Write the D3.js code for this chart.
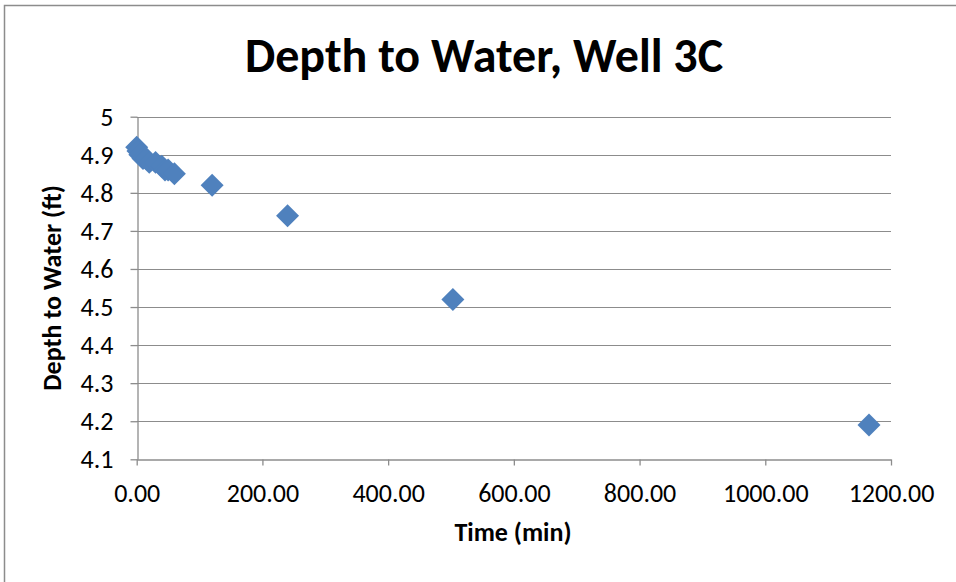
<!DOCTYPE html>
<html><head><meta charset="utf-8">
<script src="https://cdn.jsdelivr.net/npm/d3@7"></script>
<style>body{margin:0;background:#fff}svg{display:block}</style>
</head><body>
<script>
const timeMin = [0, 2, 5, 10, 15, 20, 30, 40, 45, 50, 60, 120, 240, 503, 1165];
const depthFt = [4.92, 4.91, 4.90, 4.89, 4.89, 4.88, 4.88, 4.87, 4.86, 4.86, 4.85, 4.82, 4.74, 4.52, 4.19];
const xTicks = [0, 200, 400, 600, 800, 1000, 1200];
const yTicks = [4.1, 4.2, 4.3, 4.4, 4.5, 4.6, 4.7, 4.8, 4.9, 5];
const title = "Depth to Water, Well 3C";
const xTitle = "Time (min)";
const yTitle = "Depth to Water (ft)";

const W = 956, H = 582;
const font = "Carlito, 'Open Sans', Lato, sans-serif";
const svg = d3.select("body").append("svg").attr("width", W).attr("height", H);

// chart border (only top and left visible)
svg.append("path").attr("d", "M4.5,582 V5.5 H956").attr("fill", "none").attr("stroke", "#8c8c8c").attr("stroke-width", 1.5);

const x = d3.scaleLinear().domain([0, 1200]).range([136.7, 891]);
const y = d3.scaleLinear().domain([4.1, 5]).range([459.3, 116.7]);

// gridlines
svg.append("g").selectAll("line").data(yTicks.filter(v => v > 4.1)).join("line")
  .attr("x1", x(0)).attr("x2", x(1200))
  .attr("y1", d => Math.round(y(d)) + 0.5).attr("y2", d => Math.round(y(d)) + 0.5)
  .attr("stroke", "#8c8c8c").attr("stroke-width", 1);

// x axis
const gx = svg.append("g").attr("transform", `translate(0,${Math.round(y(4.1)) + 0.5})`)
  .call(d3.axisBottom(x).tickValues(xTicks).tickFormat(d3.format(".2f")).tickSize(6).tickSizeOuter(0).tickPadding(18));
gx.select(".domain").attr("stroke", "#8c8c8c").attr("stroke-width", 1.3);
gx.selectAll(".tick line").attr("stroke", "#8c8c8c").attr("stroke-width", 1.3);
gx.selectAll("text").attr("font-family", font).attr("font-size", 26).attr("fill", "#000");

// y axis
const gy = svg.append("g").attr("transform", `translate(${Math.round(x(0)) + 0.5},0)`)
  .call(d3.axisLeft(y).tickValues(yTicks).tickFormat(d => d3.format("")(+d.toFixed(1))).tickSize(7).tickSizeOuter(0).tickPadding(17));
gy.select(".domain").attr("stroke", "#8c8c8c").attr("stroke-width", 1.3);
gy.selectAll(".tick line").attr("stroke", "#8c8c8c").attr("stroke-width", 1.3);
gy.selectAll("text").attr("font-family", font).attr("font-size", 26).attr("fill", "#000");

// points
const sym = d3.symbol().type(d3.symbolSquare).size(264);
svg.append("g").selectAll("path").data(timeMin.map((t, i) => [t, depthFt[i]])).join("path")
  .attr("d", sym)
  .attr("transform", d => `translate(${x(d[0])},${y(d[1])}) rotate(45)`)
  .attr("fill", "#4f81bd");

// titles
svg.append("text").attr("x", 484).attr("y", 72).attr("text-anchor", "middle")
  .attr("font-family", font).attr("font-weight", "bold").attr("font-size", 48).text(title);
svg.append("text").attr("x", 513).attr("y", 541).attr("text-anchor", "middle")
  .attr("font-family", font).attr("font-weight", "bold").attr("font-size", 26).text(xTitle);
svg.append("text").attr("transform", "translate(61,288) rotate(-90)").attr("text-anchor", "middle")
  .attr("font-family", font).attr("font-weight", "bold").attr("font-size", 26).text(yTitle);
</script>
</body></html>
